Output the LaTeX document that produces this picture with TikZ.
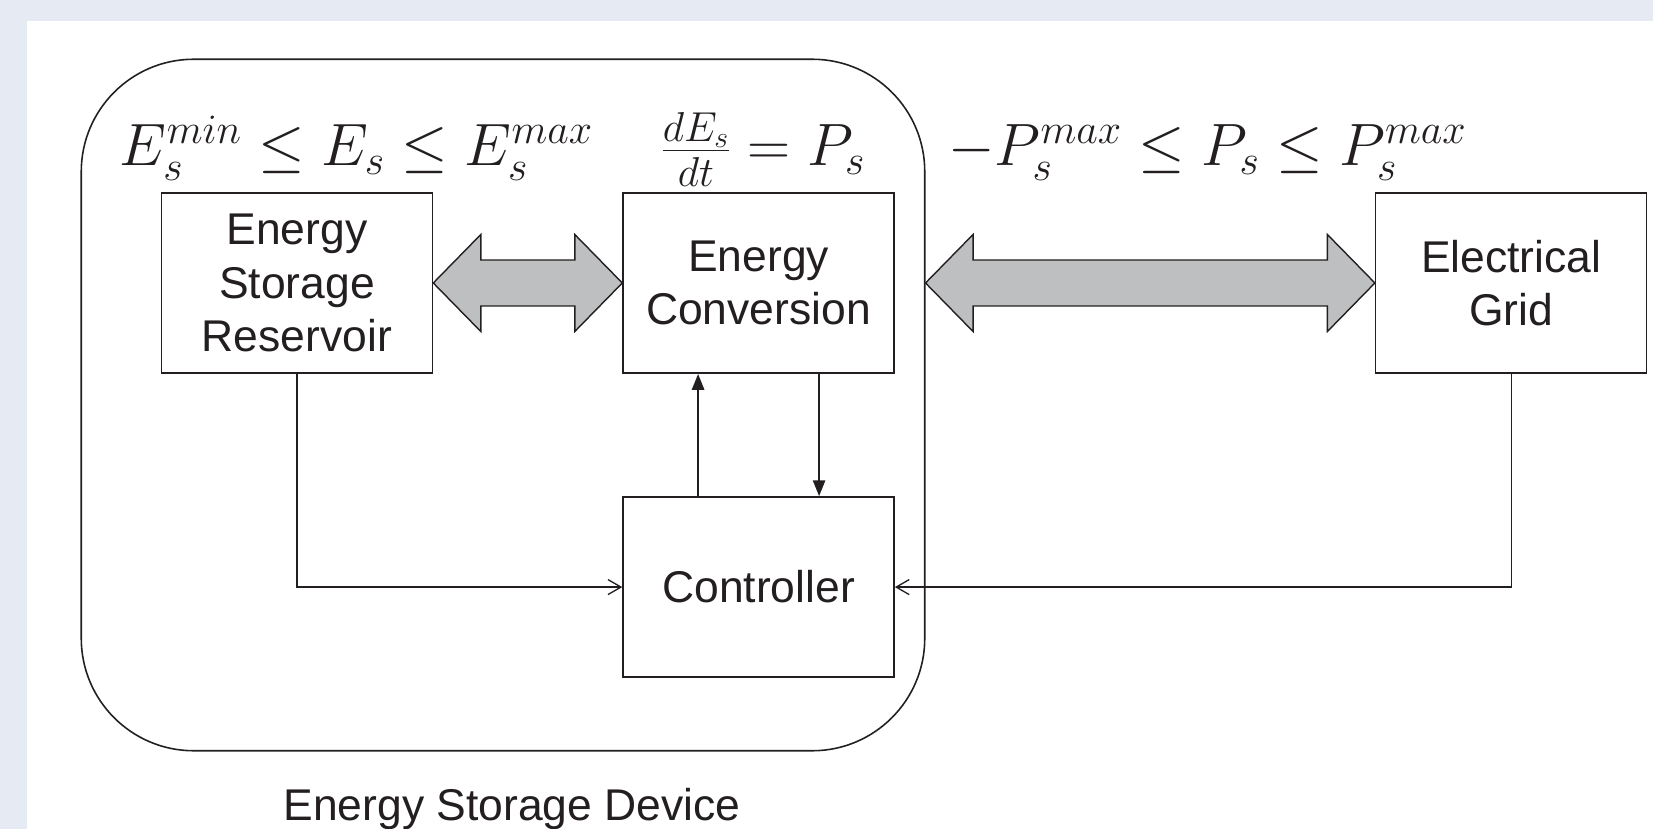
\RequirePackage{fix-cm}
\documentclass[tikz,border=0pt]{standalone}
\usepackage{amsmath}
\usepackage{fontspec}
\newfontfamily\helv{Liberation Sans}
\usepackage{tikz}
\usetikzlibrary{arrows.meta, positioning, calc}
\definecolor{panelbg}{HTML}{E6EBF3}
\definecolor{fatgray}{HTML}{BEBFC1}
\definecolor{ink}{HTML}{231F20}

\begin{document}
\begin{tikzpicture}[
        node distance=2.4cm,
        box/.style={rectangle, draw=ink, text=ink, line width=0.9pt, minimum width=5.42cm, minimum height=3.6cm, align=center, font=\helv\fontsize{25.3}{30.5}\selectfont},
        eqn/.style={anchor=base, text=ink, font=\fontsize{34}{40}\selectfont},
        fatarrow/.style={draw=ink, fill=fatgray, line width=0.8pt, line join=miter},
        ctrlarrow/.style={-{Triangle[length=3.2mm, width=2.4mm]}, draw=ink, line width=1.5pt},
        feedback/.style={-{Straight Barb[length=2.6mm, width=3mm]}, draw=ink, line width=0.75pt}
    ]

    % Background
    \fill[panelbg] (0,0) rectangle (33.06,-16.58);
    \fill[white] (0.53,-0.42) rectangle (33.06,-16.58);
    \useasboundingbox (0,0) rectangle (33.06,-16.58);

    % Nodes
    \node[draw=ink, line width=0.9pt, rounded corners=2.25cm, minimum width=16.87cm, minimum height=13.83cm] (device) at (10.06,-8.1) {};
    \node[box] (res) at (5.94,-5.66) {Energy\\Storage\\Reservoir};
    \node[box, right=3.78cm of res] (conv) {Energy\\Conversion};
    \node[box, below=2.45cm of conv] (ctrl) {Controller};
    \node[box, right=9.6cm of conv] (grid) {Electrical\\Grid};
    \coordinate (devout) at (device.east |- grid.west);

    % Labels
    \node[eqn] (elim) at (7.13,-3.31) {$E_s^{min} \leq E_s \leq E_s^{max}$};
    \node[eqn] (dyn) at (15.26,-3.31) {$\frac{dE_s}{dt} = P_s$};
    \node[eqn] (plim) at (24.15,-3.31) {$-P_s^{max} \leq P_s \leq P_s^{max}$};
    \node[anchor=base, text=ink, font=\helv\fontsize{25.3}{30.5}\selectfont] (devlabel) at (10.24,-16.40) {Energy Storage Device};

    % Power flows
    \draw[fatarrow] (res.east) -- ++(0.95,0.97) -- ++(0,-0.51) -- ($(conv.west)+(-0.95,0.46)$) -- ++(0,0.51) -- (conv.west)
        -- ++(-0.95,-0.97) -- ++(0,0.51) -- ($(res.east)+(0.95,-0.46)$) -- ++(0,-0.51) -- cycle;
    \draw[fatarrow] (devout) -- ++(0.95,0.97) -- ++(0,-0.51) -- ($(grid.west)+(-0.95,0.46)$) -- ++(0,0.51) -- (grid.west)
        -- ++(-0.95,-0.97) -- ++(0,0.51) -- ($(devout)+(0.95,-0.46)$) -- ++(0,-0.51) -- cycle;

    % Signals
    \draw[ctrlarrow] ([xshift=-1.21cm]ctrl.north) -- ([xshift=-1.21cm]conv.south);
    \draw[ctrlarrow] ([xshift=1.21cm]conv.south) -- ([xshift=1.21cm]ctrl.north);
    \draw[feedback] (res.south) |- (ctrl.west);
    \draw[feedback] (grid.south) |- (ctrl.east);

\end{tikzpicture}
\end{document}
